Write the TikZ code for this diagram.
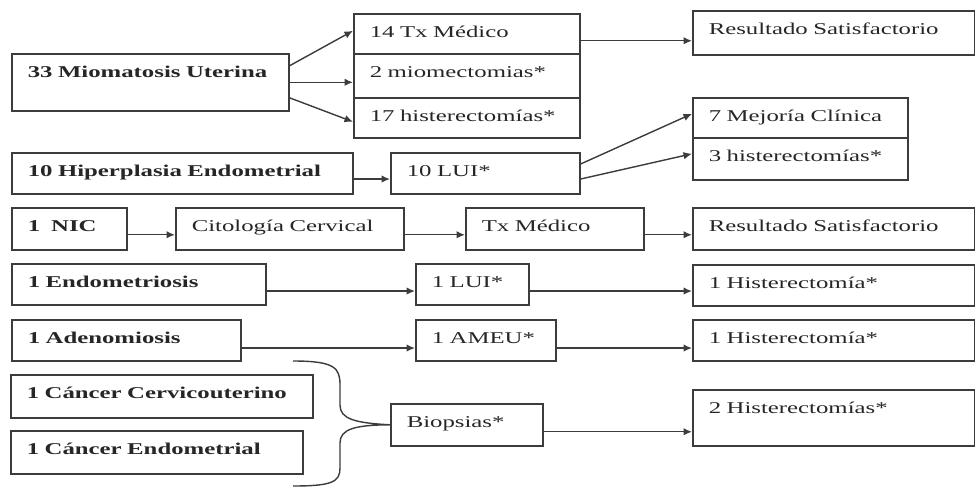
\documentclass[tikz,border=0pt]{standalone}
\usepackage{fontspec}
\setmainfont{Liberation Serif}[FakeStretch=1.5]
\usetikzlibrary{arrows.meta,calc}
\definecolor{flowInk}{HTML}{262626}
\definecolor{flowLine}{HTML}{3C3C3C}

\begin{document}
\begin{tikzpicture}[x=0.02cm, y=-0.02cm,
    caja/.style={draw=flowLine, line width=0.9pt, anchor=north west, align=left,
      inner xsep=0.32cm, inner ysep=0pt, text height=0.47cm, text depth=0.36cm,
      font=\fontsize{9.4}{11}\selectfont, text=flowInk},
    diag/.style={caja, font=\fontsize{9.4}{11}\selectfont\bfseries},
    a/.style={-{Latex[length=1.7mm,width=1.5mm]}, draw=flowLine, line width=0.8pt}]
    \useasboundingbox (0,0) rectangle (975,487);
    % miomatosis
    \node[diag, text width=4.90cm, text depth=0.67cm] (mio) at (11,53) {33 Miomatosis Uterina};
    \node[caja, text width=3.88cm, text depth=0.33cm] (txm) at (353,13) {14 Tx Médico};
    \node[caja, text width=3.88cm, text depth=0.41cm] (miom) at (353,53) {2 miomectomias*};
    \node[caja, text width=3.88cm, text depth=0.33cm] (hist17) at (353,97) {17 histerectomías*};
    \node[caja, text width=5.00cm, text depth=0.41cm] (res1) at (692,10) {Resultado Satisfactorio};
    \draw[a] ([yshift=0.33cm]mio.east) -- ([yshift=0.06cm]txm.west);
    \draw[a] (mio.east) -- (mio.east -| miom.west);
    \draw[a] ([yshift=-0.31cm]mio.east) -- ([yshift=-0.08cm]hist17.west);
    \draw[a] ([yshift=-0.14cm]txm.east) -- ([yshift=-0.14cm]txm.east -| res1.west);
    % hiperplasia
    \node[diag, text width=6.18cm] (hip) at (11,152) {10 Hiperplasia Endometrial};
    \node[caja, text width=3.14cm] (lui10) at (390,152) {10 LUI*};
    \node[caja, text width=3.66cm, text depth=0.33cm] (mej) at (692,97) {7 Mejoría Clínica};
    \node[caja, text width=3.66cm, text depth=0.37cm] (hist3) at (692,137) {3 histerectomías*};
    \draw[a] ([yshift=-0.11cm]hip.east) -- ([yshift=-0.11cm]hip.east -| lui10.west);
    \draw[a] ([yshift=0.19cm]lui10.east) -- ([yshift=0.08cm]mej.west);
    \draw[a] ([yshift=-0.11cm]lui10.east) -- ([yshift=0.10cm]hist3.west);
    % NIC
    \node[diag, text width=1.66cm, text depth=0.37cm] (nic) at (11,207) {1\ \ NIC};
    \node[caja, text width=3.92cm, text depth=0.37cm] (cit) at (175,207) {Citología Cervical};
    \node[caja, text width=2.92cm, text depth=0.37cm] (txm2) at (465,207) {Tx Médico};
    \node[caja, text width=5.00cm, text depth=0.37cm] (res2) at (692,207) {Resultado Satisfactorio};
    \draw[a] ([yshift=-0.12cm]nic.east) -- ([yshift=-0.12cm]nic.east -| cit.west);
    \draw[a] ([yshift=-0.12cm]cit.east) -- ([yshift=-0.12cm]cit.east -| txm2.west);
    \draw[a] ([yshift=-0.12cm]txm2.east) -- ([yshift=-0.12cm]txm2.east -| res2.west);
    % endometriosis / adenomiosis
    \node[diag, text width=4.44cm] (endo) at (11,263) {1 Endometriosis};
    \node[caja, text width=1.62cm] (lui1) at (415,263) {1 LUI*};
    \node[caja, text width=5.00cm] (his1) at (692,264) {1 Histerectomía*};
    \node[diag, text width=3.94cm] (ade) at (11,319) {1 Adenomiosis};
    \node[caja, text width=2.16cm] (ameu) at (415,319) {1 AMEU*};
    \node[caja, text width=5.00cm] (his1b) at (692,319) {1 Histerectomía*};
    \draw[a] ([yshift=-0.13cm]endo.east) -- ([yshift=-0.13cm]endo.east -| lui1.west);
    \draw[a] ([yshift=-0.13cm]lui1.east) -- ([yshift=-0.13cm]lui1.east -| his1.west);
    \draw[a] ([yshift=-0.15cm]ade.east) -- ([yshift=-0.15cm]ade.east -| ameu.west);
    \draw[a] ([yshift=-0.15cm]ameu.east) -- ([yshift=-0.15cm]ameu.east -| his1b.west);
    % canceres -> biopsias
    \node[diag, text width=5.40cm, text depth=0.39cm] (cacu) at (10,374) {1 Cáncer Cervicouterino};
    \node[diag, text width=5.20cm, text depth=0.39cm] (caen) at (10,430) {1 Cáncer Endometrial};
    \node[caja, text width=2.40cm, text depth=0.37cm] (bio) at (390,403) {Biopsias*};
    \node[caja, text width=5.00cm, text depth=0.65cm] (his2) at (692,389) {2 Histerectomías*};
    \draw[flowLine, line width=0.8pt] (293,361) .. controls (335,361) and (340,368) .. (340,385)
      -- (340,405) .. controls (340,419) and (355,423) .. (bio.west)
      .. controls (355,425) and (340,429) .. (340,443) -- (340,468)
      .. controls (340,482) and (332,486) .. (293,486);
    \draw[a] ([yshift=-0.14cm]bio.east) -- ([yshift=-0.14cm]bio.east -| his2.west);
\end{tikzpicture}
\end{document}
